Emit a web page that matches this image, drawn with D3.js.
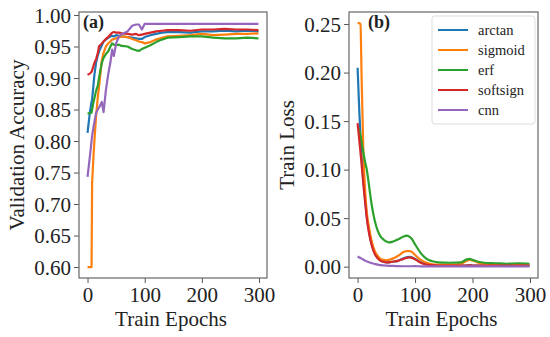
<!DOCTYPE html>
<html>
<head>
<meta charset="utf-8">
<script src="https://cdn.jsdelivr.net/npm/d3@7"></script>
<style>
  body { margin: 0; background: #fff; }
  svg { display: block; }
  text { font-family: "Liberation Serif", "Times New Roman", serif; fill: #222; }
</style>
</head>
<body>
<div id="vis"></div>
<script>
// series names and colours (matplotlib tab10)
var names = ['arctan', 'sigmoid', 'erf', 'softsign', 'cnn'];
var colors = ['#1f77b4', '#ff7f0e', '#2ca02c', '#d62728', '#9467bd'];

// (a) validation accuracy
var accEpochs = [0, 4, 7, 8, 10, 12, 15, 18, 20, 25, 28, 32, 36, 40, 43, 46, 50, 55, 60, 70, 78, 85, 90, 95, 100, 110, 120, 130, 140, 160, 180, 200, 220, 240, 260, 280, 299];
var accArctan   = [0.813, 0.845, 0.862, 0.866, 0.885, 0.905, 0.925, 0.936, 0.942, 0.952, 0.958, 0.961, 0.964, 0.966, 0.967, 0.966, 0.968, 0.967, 0.966, 0.965, 0.964, 0.963, 0.962, 0.962, 0.965, 0.968, 0.970, 0.972, 0.973, 0.973, 0.972, 0.974, 0.974, 0.975, 0.974, 0.975, 0.974];
var accSigmoid  = [0.600, 0.600, 0.600, 0.733, 0.770, 0.800, 0.840, 0.870, 0.885, 0.928, 0.940, 0.950, 0.955, 0.958, 0.961, 0.962, 0.963, 0.965, 0.966, 0.965, 0.962, 0.960, 0.958, 0.957, 0.955, 0.957, 0.961, 0.964, 0.966, 0.967, 0.968, 0.970, 0.968, 0.969, 0.970, 0.970, 0.971];
var accErf      = [0.844, 0.844, 0.845, 0.850, 0.860, 0.868, 0.880, 0.888, 0.900, 0.924, 0.932, 0.938, 0.942, 0.950, 0.955, 0.953, 0.952, 0.953, 0.951, 0.950, 0.946, 0.944, 0.943, 0.946, 0.948, 0.952, 0.957, 0.961, 0.964, 0.965, 0.966, 0.966, 0.964, 0.963, 0.963, 0.964, 0.963];
var accSoftsign = [0.905, 0.907, 0.910, 0.912, 0.918, 0.924, 0.930, 0.940, 0.950, 0.955, 0.958, 0.962, 0.965, 0.969, 0.972, 0.973, 0.972, 0.972, 0.971, 0.970, 0.969, 0.970, 0.968, 0.969, 0.970, 0.972, 0.974, 0.975, 0.976, 0.976, 0.975, 0.977, 0.977, 0.978, 0.977, 0.977, 0.976];
var accCnn      = [0.743, 0.775, 0.800, 0.808, 0.820, 0.830, 0.845, 0.850, 0.853, 0.862, 0.846, 0.880, 0.905, 0.925, 0.945, 0.935, 0.955, 0.966, 0.970, 0.974, 0.983, 0.985, 0.985, 0.977, 0.986, 0.986, 0.986, 0.986, 0.986, 0.986, 0.986, 0.986, 0.986, 0.986, 0.986, 0.986, 0.986];

// (b) train loss
var lossEpochs = [0, 3, 5, 7, 10, 13, 16, 20, 25, 30, 35, 40, 45, 50, 55, 60, 70, 80, 85, 90, 95, 100, 110, 120, 130, 140, 160, 180, 190, 195, 200, 210, 220, 240, 260, 280, 299];
var lossArctan   = [0.205, 0.160, 0.135, 0.115, 0.090, 0.070, 0.052, 0.036, 0.022, 0.014, 0.009, 0.0065, 0.005, 0.0045, 0.0045, 0.005, 0.006, 0.0085, 0.0095, 0.010, 0.0095, 0.008, 0.0045, 0.0025, 0.0015, 0.0012, 0.001, 0.001, 0.0012, 0.0013, 0.0012, 0.001, 0.001, 0.001, 0.001, 0.001, 0.001];
var lossSigmoid  = [0.251, 0.251, 0.250, 0.195, 0.120, 0.080, 0.056, 0.040, 0.025, 0.016, 0.011, 0.008, 0.007, 0.0065, 0.007, 0.008, 0.011, 0.015, 0.016, 0.016, 0.015, 0.012, 0.007, 0.004, 0.0025, 0.002, 0.002, 0.003, 0.006, 0.007, 0.0065, 0.004, 0.003, 0.002, 0.002, 0.002, 0.002];
var lossErf      = [0.145, 0.140, 0.135, 0.128, 0.118, 0.108, 0.100, 0.083, 0.062, 0.047, 0.037, 0.031, 0.028, 0.026, 0.025, 0.0255, 0.028, 0.031, 0.032, 0.031, 0.028, 0.023, 0.014, 0.008, 0.0055, 0.0045, 0.004, 0.0045, 0.0075, 0.008, 0.007, 0.005, 0.004, 0.0035, 0.003, 0.0035, 0.003];
var lossSoftsign = [0.148, 0.130, 0.118, 0.105, 0.085, 0.067, 0.050, 0.034, 0.021, 0.013, 0.0085, 0.006, 0.005, 0.0045, 0.0045, 0.005, 0.006, 0.008, 0.009, 0.0095, 0.009, 0.0075, 0.004, 0.002, 0.0015, 0.0012, 0.001, 0.001, 0.0012, 0.0013, 0.0012, 0.001, 0.001, 0.001, 0.001, 0.001, 0.001];
var lossCnn      = [0.0105, 0.0095, 0.009, 0.0082, 0.0072, 0.0062, 0.0054, 0.0045, 0.0035, 0.0027, 0.002, 0.0016, 0.0013, 0.001, 0.0008, 0.0007, 0.0005, 0.0004, 0.0004, 0.0004, 0.0004, 0.0005, 0.0003, 0.0003, 0.0002, 0.0002, 0.0002, 0.0002, 0.0002, 0.0002, 0.0002, 0.0002, 0.0002, 0.0002, 0.0002, 0.0002, 0.0002];

var accTicks = [0.60, 0.65, 0.70, 0.75, 0.80, 0.85, 0.90, 0.95, 1.00];
var lossTicks = [0.00, 0.05, 0.10, 0.15, 0.20, 0.25];
var epochTicks = [0, 100, 200, 300];

var accSeries = [accArctan, accSigmoid, accErf, accSoftsign, accCnn];
var lossSeries = [lossArctan, lossSigmoid, lossErf, lossSoftsign, lossCnn];

var width = 550, height = 337;
var svg = d3.select('#vis').append('svg')
  .attr('width', width)
  .attr('height', height);

// draws one panel
function panel(opts) {
  var x = d3.scaleLinear().domain([-14.95, 313.95]).range([opts.left, opts.right]);
  var y = d3.scaleLinear().domain(opts.yDomain).range([opts.bottom, opts.top]);
  var g = svg.append('g');

  var clipId = 'clip-' + opts.tag;
  g.append('clipPath').attr('id', clipId)
    .append('rect')
    .attr('x', opts.left).attr('y', opts.top)
    .attr('width', opts.right - opts.left).attr('height', opts.bottom - opts.top);

  var line = d3.line()
    .x(function (d) { return x(d[0]); })
    .y(function (d) { return y(d[1]); })
    .curve(opts.curve);

  var lines = g.append('g').attr('clip-path', 'url(#' + clipId + ')');
  opts.series.forEach(function (vals, i) {
    var pts = opts.epochs.map(function (e, j) { return [e, vals[j]]; });
    lines.append('path')
      .datum(pts)
      .attr('fill', 'none')
      .attr('stroke', colors[i])
      .attr('stroke-width', 2.2)
      .attr('stroke-linejoin', 'round')
      .attr('d', line);
  });

  var xAxis = d3.axisBottom(x).tickValues(epochTicks).tickSize(5).tickPadding(3).tickFormat(d3.format('d'));
  var yAxis = d3.axisLeft(y).tickValues(opts.ticks).tickSize(5).tickPadding(3).tickFormat(d3.format('.2f'));

  var gx = g.append('g').attr('transform', 'translate(0,' + opts.bottom + ')').call(xAxis);
  var gy = g.append('g').attr('transform', 'translate(' + opts.left + ',0)').call(yAxis);
  [gx, gy].forEach(function (a) {
    a.select('.domain').remove();
    a.selectAll('.tick line').attr('stroke', '#555').attr('stroke-width', 1);
    a.selectAll('.tick text').attr('fill', '#222').style('font-size', '21px')
      .style('font-family', '"Liberation Serif", serif');
  });
  gx.selectAll('.tick text').attr('dy', '0.76em');
  gy.selectAll('.tick text').attr('dy', '0.34em');

  // frame
  g.append('rect')
    .attr('x', opts.left).attr('y', opts.top)
    .attr('width', opts.right - opts.left).attr('height', opts.bottom - opts.top)
    .attr('fill', 'none').attr('stroke', '#666').attr('stroke-width', 1.2);

  g.append('text')
    .attr('x', opts.left + opts.tagDx).attr('y', opts.top + 16)
    .style('font-size', '18px').style('font-weight', 'bold')
    .text(opts.tag === 'a' ? '(a)' : '(b)');

  g.append('text')
    .attr('x', (opts.left + opts.right) / 2 - 2).attr('y', 326)
    .attr('text-anchor', 'middle')
    .style('font-size', '21px')
    .text('Train Epochs');

  g.append('text')
    .attr('transform', 'translate(' + opts.labelX + ',' + (opts.top + opts.bottom) / 2 + ') rotate(-90)')
    .attr('text-anchor', 'middle')
    .style('font-size', '21px')
    .text(opts.yLabel);

  return g;
}

panel({
  tag: 'a', tagDx: 4, left: 79, right: 267, top: 12, bottom: 278,
  yDomain: [0.5826, 1.0048], ticks: accTicks,
  epochs: accEpochs, series: accSeries, curve: d3.curveLinear,
  yLabel: 'Validation Accuracy', labelX: 24
});

var gb = panel({
  tag: 'b', tagDx: 19, left: 349, right: 538, top: 12, bottom: 278,
  yDomain: [-0.0117, 0.2624], ticks: lossTicks,
  epochs: lossEpochs, series: lossSeries, curve: d3.curveMonotoneX,
  yLabel: 'Train Loss', labelX: 294
});

// legend
var legend = gb.append('g').attr('transform', 'translate(432,16)');
legend.append('rect')
  .attr('width', 103).attr('height', 108).attr('rx', 3)
  .attr('fill', '#fff').attr('fill-opacity', 0.85)
  .attr('stroke', '#ddd').attr('stroke-width', 1);
names.forEach(function (n, i) {
  var row = legend.append('g').attr('transform', 'translate(0,' + (14 + i * 20) + ')');
  row.append('line').attr('x1', 6).attr('x2', 36)
    .attr('stroke', colors[i]).attr('stroke-width', 2);
  row.append('text').attr('x', 46).attr('dy', '0.32em')
    .style('font-size', '14.5px').text(n);
});
</script>
</body>
</html>
